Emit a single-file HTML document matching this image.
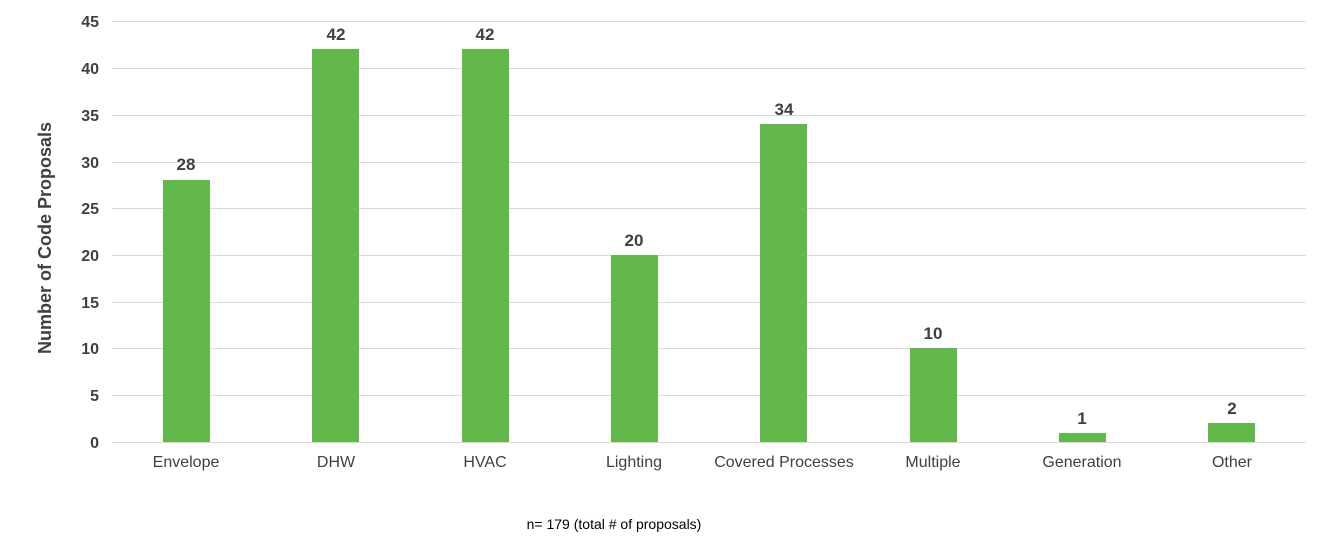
<!DOCTYPE html>
<html><head><style>
body{margin:0;background:#fff;}
svg text{font-family:"Liberation Sans",Arial,sans-serif;fill:#404040;}
</style></head><body>
<svg width="1338" height="541" xmlns="http://www.w3.org/2000/svg">
<g stroke="#d9d9d9" stroke-width="1">
<line x1="112" x2="1306" y1="21.5" y2="21.5"/><line x1="112" x2="1306" y1="68.5" y2="68.5"/>
<line x1="112" x2="1306" y1="115.5" y2="115.5"/><line x1="112" x2="1306" y1="162.5" y2="162.5"/>
<line x1="112" x2="1306" y1="208.5" y2="208.5"/><line x1="112" x2="1306" y1="255.5" y2="255.5"/>
<line x1="112" x2="1306" y1="302.5" y2="302.5"/><line x1="112" x2="1306" y1="348.5" y2="348.5"/>
<line x1="112" x2="1306" y1="395.5" y2="395.5"/><line x1="112" x2="1306" y1="442.5" y2="442.5"/>
</g>
<g font-size="16" font-weight="bold" text-anchor="end">
<text x="99" y="27">45</text><text x="99" y="74">40</text><text x="99" y="121">35</text>
<text x="99" y="168">30</text><text x="99" y="214">25</text><text x="99" y="261">20</text>
<text x="99" y="308">15</text><text x="99" y="354">10</text><text x="99" y="401">5</text>
<text x="99" y="448">0</text>
</g>
<text transform="translate(51,238) rotate(-90)" font-size="18" font-weight="bold" text-anchor="middle">Number of Code Proposals</text>
<g fill="#62b84a">
<rect x="163" y="180" width="47" height="262"/>
<rect x="312" y="49" width="47" height="393"/>
<rect x="462" y="49" width="47" height="393"/>
<rect x="611" y="255" width="47" height="187"/>
<rect x="760" y="124" width="47" height="318"/>
<rect x="910" y="348" width="47" height="94"/>
<rect x="1059" y="433" width="47" height="9"/>
<rect x="1208" y="423" width="47" height="19"/>
</g>
<g font-size="17" font-weight="bold" text-anchor="middle">
<text x="186" y="170">28</text><text x="336" y="40">42</text><text x="485" y="40">42</text>
<text x="634" y="246">20</text><text x="784" y="115">34</text><text x="933" y="339">10</text>
<text x="1082" y="424">1</text><text x="1232" y="414">2</text>
</g>
<g font-size="16" text-anchor="middle">
<text x="186" y="467">Envelope</text><text x="336" y="467">DHW</text><text x="485" y="467">HVAC</text>
<text x="634" y="467">Lighting</text><text x="784" y="467">Covered Processes</text><text x="933" y="467">Multiple</text>
<text x="1082" y="467">Generation</text><text x="1232" y="467">Other</text>
</g>
<text x="614" y="529" font-size="14" text-anchor="middle" style="fill:#000">n= 179 (total # of proposals)</text>
</svg>
</body></html>
